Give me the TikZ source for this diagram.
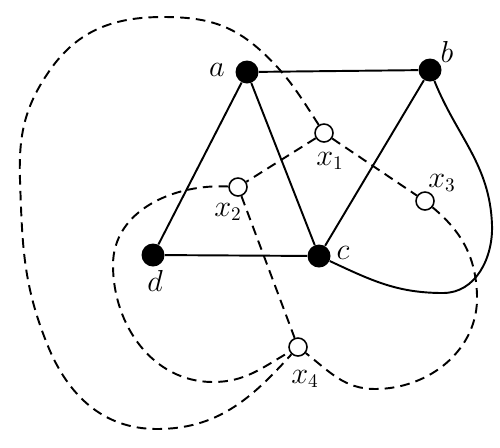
\documentclass[tikz,border=0pt]{standalone}
\usepackage{amsmath}
\usetikzlibrary{calc}

\begin{document}
\begin{tikzpicture}[
  vert/.style={circle, fill=black, inner sep=0pt, minimum size=0.46cm},
  dualvert/.style={circle, draw, fill=white, line width=0.9pt, inner sep=0pt, minimum size=0.36cm},
  edge/.style={line width=1.1pt},
  dualedge/.style={line width=1.1pt, dash pattern=on 5.5pt off 3.5pt},
  lbl/.style={font=\fontsize{16}{19}\selectfont}
]
\useasboundingbox (0,0) rectangle (10,-8.94);

% primal graph
\node[vert] (a) at (4.94,-1.44) {};
\node[vert] (b) at (8.60,-1.40) {};
\node[vert] (c) at (6.38,-5.12) {};
\node[vert] (d) at (3.06,-5.10) {};
\node[lbl] (la) at (4.34,-1.40) {$a$};
\node[lbl] (lb) at (8.94,-1.04) {$b$};
\node[lbl] (lc) at (6.86,-5.06) {$c$};
\node[lbl] (ld) at (3.10,-5.62) {$d$};

% dual vertices
\node[dualvert] (x1) at (6.48,-2.66) {};
\node[dualvert] (x2) at (4.76,-3.74) {};
\node[dualvert] (x3) at (8.50,-4.02) {};
\node[dualvert] (x4) at (5.96,-6.94) {};
\node[lbl] (lx1) at (6.60,-3.22) {$x_1$};
\node[lbl] (lx2) at (4.56,-4.24) {$x_2$};
\node[lbl] (lx3) at (8.84,-3.66) {$x_3$};
\node[lbl] (lx4) at (6.10,-7.58) {$x_4$};

% edges
\draw[edge] (a) -- (b);
\draw[edge] (a) -- (d);
\draw[edge] (a) -- (c);
\draw[edge] (b) -- (c);
\draw[edge] (d) -- (c);
\draw[edge] (b) to[out=-68,in=92] (9.84,-4.5) to[out=-88,in=0] (8.86,-5.86) to[out=180,in=-25] (c);

% dual edges
\draw[dualedge] (x1) -- (x2);
\draw[dualedge] (x1) -- (x3);
\draw[dualedge] (x2) -- (x4);
\draw[dualedge] (x1) to[out=123,in=-42] (5.2,-1.0) to[out=138,in=0] (3.26,-0.34)
  to[out=180,in=55] (1.0,-1.4) to[out=235,in=92] (0.4,-3.6)
  to[out=-88,in=112] (0.95,-6.9) to[out=-68,in=180] (3.14,-8.58) to[out=0,in=-132] (x4);
\draw[dualedge] (x2) to[out=177,in=90] (2.26,-5.3) to[out=-90,in=180] (4.26,-7.64) to[out=0,in=-150] (x4);
\draw[dualedge] (x3) to[out=-40,in=92] (9.54,-5.9) to[out=-88,in=0] (7.5,-7.78) to[out=180,in=-38] (x4);
\end{tikzpicture}
\end{document}
